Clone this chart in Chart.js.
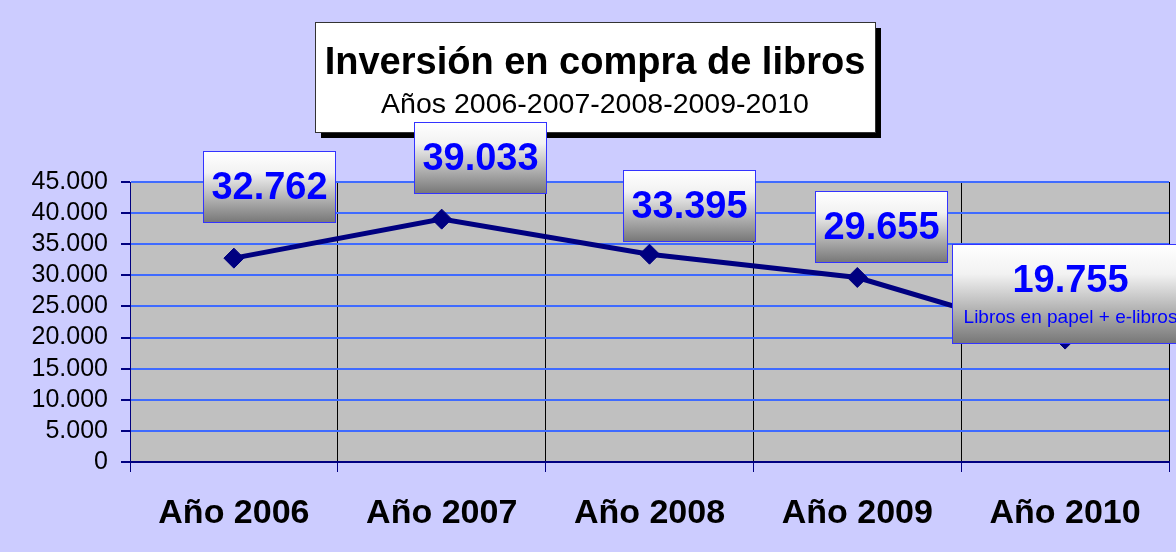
<!DOCTYPE html>
<html>
<head>
<meta charset="utf-8">
<script src="https://cdn.jsdelivr.net/npm/chart.js@4/dist/chart.umd.min.js"></script>
<style>
    body { margin: 0; background: #CCCCFF; }
    #chart { display: block; }
</style>
</head>
<body>
<canvas id="chart" width="1176" height="552"></canvas>
<script>
// Chart data
const categories = ['Año 2006', 'Año 2007', 'Año 2008', 'Año 2009', 'Año 2010'];
const inversion = [32762, 39033, 33395, 29655, 19755];
const yTicks = [0, 5000, 10000, 15000, 20000, 25000, 30000, 35000, 40000, 45000];
const titleText = 'Inversión en compra de libros';
const subtitleText = 'Años 2006-2007-2008-2009-2010';
const noteText = 'Libros en papel + e-libros';

const FONT = '"Liberation Sans", Arial, sans-serif';

// Thousands separator with a dot
function fmt(v) {
    return String(v).replace(/\B(?=(\d{3})+(?!\d))/g, '.');
}

// Gray plot background
const plotBackground = {
    id: 'plotBackground',
    beforeDraw(chart) {
        const { ctx, chartArea: a } = chart;
        ctx.save();
        ctx.fillStyle = '#CCCCFF';
        ctx.fillRect(0, 0, chart.width, chart.height);
        ctx.fillStyle = '#C0C0C0';
        ctx.fillRect(a.left, a.top, a.right - a.left, a.bottom - a.top);
        ctx.restore();
    }
};

// Title box with drop shadow, then the value boxes over it
const boxes = {
    id: 'boxes',
    afterDatasetsDraw(chart, args, opts) {
        const ctx = chart.ctx;
        ctx.save();

        // title box
        const t = opts.title;
        ctx.fillStyle = '#000';
        ctx.fillRect(t.x + 6, t.y + 6, t.w, t.h);
        ctx.fillStyle = '#fff';
        ctx.fillRect(t.x, t.y, t.w, t.h);
        ctx.strokeStyle = '#333';
        ctx.lineWidth = 1;
        ctx.strokeRect(t.x + 0.5, t.y + 0.5, t.w, t.h);
        ctx.fillStyle = '#000';
        ctx.textAlign = 'center';
        ctx.textBaseline = 'alphabetic';
        ctx.font = 'bold 38px ' + FONT;
        ctx.fillText(titleText, t.x + t.w / 2, t.y + 52);
        ctx.font = '28.5px ' + FONT;
        ctx.fillText(subtitleText, t.x + t.w / 2, t.y + 91);

        // value labels
        const meta = chart.getDatasetMeta(0);
        meta.data.forEach((pt, i) => {
            const off = opts.offsets[i];
            const last = i === meta.data.length - 1;
            const w = last ? 237 : 133;
            const h = last ? 100 : 72;
            const cx = pt.x + off[0];
            const cy = pt.y + off[1];
            const x = Math.round(cx - w / 2);
            const y = Math.round(cy - h / 2);
            const g = ctx.createLinearGradient(0, y, 0, y + h);
            g.addColorStop(0, '#ffffff');
            g.addColorStop(0.3, '#f2f2f2');
            g.addColorStop(1, '#767676');
            ctx.fillStyle = g;
            ctx.fillRect(x, y, w, h);
            ctx.strokeStyle = '#3333FF';
            ctx.strokeRect(x + 0.5, y + 0.5, w - 1, h - 1);
            ctx.fillStyle = '#0000FF';
            ctx.textBaseline = 'middle';
            ctx.font = 'bold 38px ' + FONT;
            if (last) {
                ctx.fillText(fmt(inversion[i]), x + w / 2, y + 38);
                ctx.font = '19px ' + FONT;
                ctx.fillText(noteText, x + w / 2, y + 74);
            } else {
                ctx.fillText(fmt(inversion[i]), x + w / 2, y + h / 2 + 2);
            }
        });
        ctx.restore();
    }
};

new Chart(document.getElementById('chart'), {
    type: 'line',
    data: {
        labels: categories,
        datasets: [{
            label: 'Inversión',
            data: inversion,
            borderColor: '#000080',
            backgroundColor: '#000080',
            borderWidth: 5,
            pointStyle: 'rectRot',
            pointRadius: 10,
            pointBackgroundColor: '#000080',
            pointBorderColor: '#000080',
            pointBorderWidth: 1,
            tension: 0
        }]
    },
    options: {
        responsive: false,
        animation: false,
        layout: {
            autoPadding: false,
            padding: { top: 182, right: 7, left: 0, bottom: 0 }
        },
        scales: {
            x: {
                type: 'category',
                offset: true,
                grid: {
                    offset: true,
                    color: '#000000',
                    lineWidth: 1,
                    tickColor: '#000080',
                    tickLength: 10
                },
                border: { color: '#000080', width: 2 },
                ticks: {
                    color: '#000',
                    padding: 21,
                    maxRotation: 0,
                    font: { family: FONT, size: 34, weight: 'bold' }
                },
                afterFit(scale) {
                    scale.height = 90;
                    scale.paddingLeft = 0;
                    scale.paddingRight = 0;
                }
            },
            y: {
                min: 0,
                max: 45000,
                afterBuildTicks(scale) {
                    scale.ticks = yTicks.map(v => ({ value: v }));
                },
                grid: {
                    color: '#3F6BFF',
                    lineWidth: 2,
                    tickColor: '#000080',
                    tickLength: 9
                },
                border: { color: '#000080', width: 1 },
                ticks: {
                    color: '#000',
                    padding: 13,
                    autoSkip: false,
                    font: { family: FONT, size: 25 },
                    callback: v => fmt(v)
                },
                afterFit(scale) { scale.width = 130; }
            }
        },
        plugins: {
            legend: { display: false },
            tooltip: { enabled: false },
            boxes: {
                title: { x: 315, y: 22, w: 560, h: 110 },
                offsets: [[35.5, -71], [38.5, -61.5], [40, -48.5], [24.5, -50], [5, -45]]
            }
        }
    },
    plugins: [plotBackground, boxes]
});
</script>
</body>
</html>
